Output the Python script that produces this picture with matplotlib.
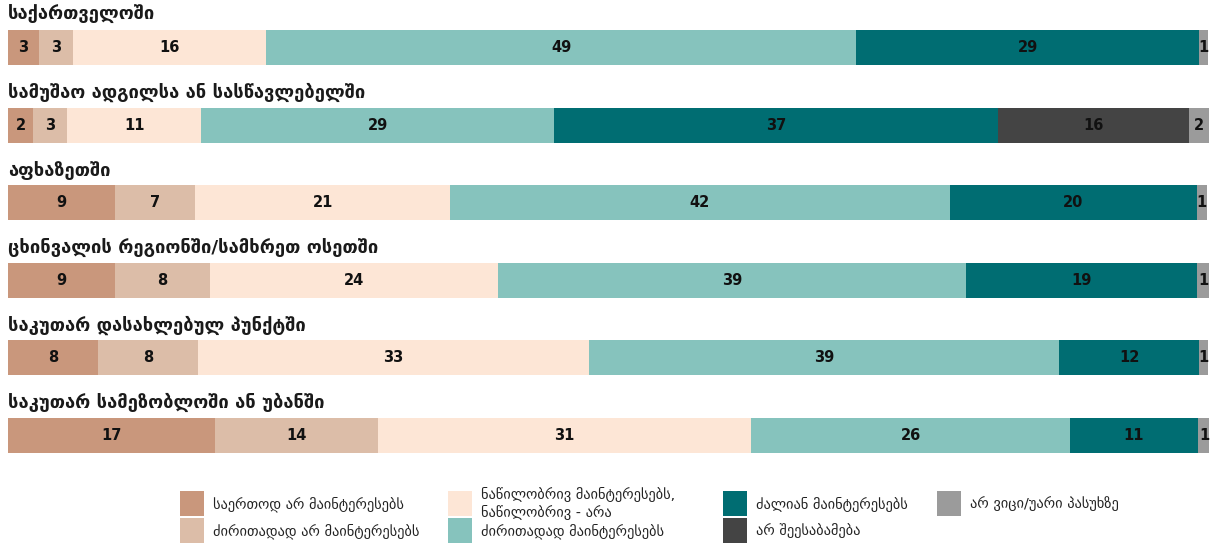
import numpy as np
import matplotlib.pyplot as plt
from matplotlib.patches import Rectangle

plt.rcParams['font.family'] = ['DejaVu Sans']

categories = [
    "საქართველოში",
    "სამუშაო ადგილსა ან სასწავლებელში",
    "აფხაზეთში",
    "ცხინვალის რეგიონში/სამხრეთ ოსეთში",
    "საკუთარ დასახლებულ პუნქტში",
    "საკუთარ სამეზობლოში ან უბანში",
]

series = [
    "საერთოდ არ მაინტერესებს",
    "ძირითადად არ მაინტერესებს",
    "ნაწილობრივ მაინტერესებს,\nნაწილობრივ - არა",
    "ძირითადად მაინტერესებს",
    "ძალიან მაინტერესებს",
    "არ შეესაბამება",
    "არ ვიცი/უარი პასუხზე",
]

colors = ["#c9977c", "#dcbda8", "#fde6d6", "#86c3bd", "#006d72", "#444444", "#9b9b9b"]

# widths (percent) per category, one list per series
not_at_all = [2.6, 2.1, 8.9, 8.9, 7.5, 17.2]
mostly_not = [2.8, 2.8, 6.7, 7.9, 8.3, 13.6]
partly = [16.1, 11.2, 21.2, 24.0, 32.6, 31.1]
mostly = [49.1, 29.4, 41.6, 39.0, 39.1, 26.5]
very = [28.6, 36.9, 20.6, 19.2, 11.7, 10.7]
not_applicable = [0, 15.9, 0, 0, 0, 0]
dont_know = [0.75, 1.75, 0.8, 1.0, 0.75, 1.0]

# printed labels
lbl_not_at_all = [3, 2, 9, 9, 8, 17]
lbl_mostly_not = [3, 3, 7, 8, 8, 14]
lbl_partly = [16, 11, 21, 24, 33, 31]
lbl_mostly = [49, 29, 42, 39, 39, 26]
lbl_very = [29, 37, 20, 19, 12, 11]
lbl_not_applicable = [None, 16, None, None, None, None]
lbl_dont_know = [1, 2, 1, 1, 1, 1]

values = [not_at_all, mostly_not, partly, mostly, very, not_applicable, dont_know]
labels = [lbl_not_at_all, lbl_mostly_not, lbl_partly, lbl_mostly, lbl_very,
          lbl_not_applicable, lbl_dont_know]

W, H = 1211, 544
fig = plt.figure(figsize=(W / 100, H / 100), dpi=100)
ax = fig.add_axes([8 / W, 1 - 470 / H, 1201 / W, 470 / H])

y = np.arange(len(categories))
left = np.zeros(len(categories))
for vals, lbls, col in zip(values, labels, colors):
    vals = np.array(vals, dtype=float)
    ax.barh(y, vals, left=left, height=0.45, color=col, edgecolor="none")
    for i in range(len(categories)):
        if lbls[i] is not None and vals[i] > 0:
            ax.text(left[i] + vals[i] / 2, y[i], str(lbls[i]), ha="center",
                    va="center", fontsize=10.5, fontweight="bold", color="#111111")
    left += vals

for i, cat in enumerate(categories):
    ax.text(0, y[i] - 0.42, cat, ha="left", va="center", fontsize=13.2,
            fontweight="bold", color="#1a1a1a")

tot = 100.0
ax.set_xlim(0, tot)
ax.set_ylim((470 - 47.5) / 77.6, -47.5 / 77.6)
ax.axis("off")

# manual legend (four columns, column-major)
col_x = [180, 448, 723, 937]
row_y = [504, 531]
sw = 24
for k, (name, col) in enumerate(zip(series, colors)):
    cx = col_x[k // 2]
    cy = row_y[k % 2]
    fig.add_artist(Rectangle(((cx) / W, 1 - (cy + sw / 2) / H), sw / W, (sw + 1) / H,
                             transform=fig.transFigure, color=col, lw=0))
    ty = cy
    if "\n" in name:
        ty = cy - 1
    fig.text((cx + sw + 9) / W, 1 - ty / H, name, ha="left", va="center",
             fontsize=10.4, color="#222222", linespacing=1.25)

fig.savefig("out.png", dpi=100)
